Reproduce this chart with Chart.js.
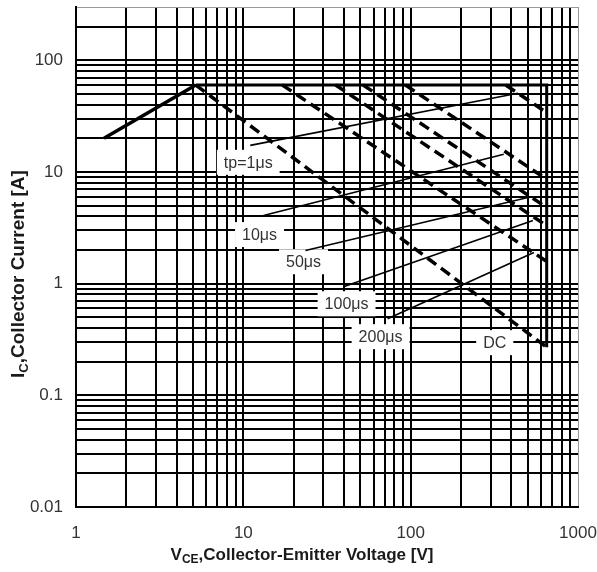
<!DOCTYPE html>
<html>
<head>
<meta charset="utf-8">
<script src="https://cdn.jsdelivr.net/npm/chart.js@4.4.0/dist/chart.umd.min.js"></script>
<style>
  html, body { margin: 0; padding: 0; background: #fff; }
  #wrap { width: 597px; height: 572px; }
</style>
</head>
<body>
<div id="wrap"><canvas id="soaChart" width="597" height="572"></canvas></div>
<script>
// axis ranges and tick labels
const vceMin = 1, vceMax = 1000;
const icMin = 0.01, icMax = 300;
const xTickLabels = ['1', '10', '100', '1000'];
const yTickLabels = ['0.01', '0.1', '1', '10', '100'];

// limits
const icLimit = 60;     // A, pulsed current limit
const vceLimit = 650;   // V, voltage limit

// DC curve
const dcVce = [1.47, 5.2, 650];
const dcIc = [20, 60, 0.27];

// pulse curves: start on the 60 A line, end on the 650 V line
const pulseNames = ['tp=1μs', '10μs', '50μs', '100μs', '200μs'];
const pulseVceStart = [370, 93, 52, 35.6, 17.1];
const pulseIcEnd = [34, 8.6, 4.8, 3.3, 1.58];

// curve labels and their leader lines
const curveLabels = ['tp=1μs', '10μs', '50μs', '100μs', '200μs', 'DC'];
const labelVce = [10.7, 12.5, 22.9, 41.4, 66.1, 318];
const labelIc = [12.2, 2.75, 1.57, 0.66, 0.335, 0.296];
const leaderFromVce = [11.0, 13.2, 23.5, 39.7, 72.8];
const leaderFromIc = [17.3, 4.07, 1.98, 0.94, 0.485];
const leaderToVce = [437, 360, 502, 538, 545];
const leaderToIc = [50.6, 14.4, 5.9, 3.67, 1.90];

const xTitle = [['V', false], ['CE', true], [',Collector-Emitter Voltage [V]', false]];
const yTitle = [['I', false], ['C', true], [',Collector Current [A]', false]];

const FONT = '"Liberation Sans", Arial, sans-serif';

function decadeTicks(min, max) {
  const out = [];
  for (let e = Math.floor(Math.log10(min)); e <= Math.ceil(Math.log10(max)); e++) {
    for (let m = 1; m <= 9; m++) {
      const v = +(m * Math.pow(10, e)).toPrecision(6);
      if (v >= min * 0.999 && v <= max * 1.001) out.push({ value: v });
    }
  }
  return out;
}

function pts(xs, ys) {
  return xs.map((v, i) => ({ x: v, y: ys[i] }));
}

const datasets = [];

datasets.push({
  data: pts(dcVce.slice(0, 2), dcIc.slice(0, 2)),
  borderColor: '#000', borderWidth: 3.5
});
datasets.push({
  data: pts(dcVce.slice(1), dcIc.slice(1)),
  borderColor: '#000', borderWidth: 3.5, borderDash: [11, 6]
});
pulseNames.forEach((n, i) => {
  datasets.push({
    data: [{ x: pulseVceStart[i], y: icLimit }, { x: vceLimit, y: pulseIcEnd[i] }],
    borderColor: '#000', borderWidth: 3.5, borderDash: [11, 6]
  });
});
// current / voltage limit outline
datasets.push({
  data: [{ x: dcVce[1], y: icLimit }, { x: vceLimit, y: icLimit }, { x: vceLimit, y: dcIc[2] }],
  borderColor: '#000', borderWidth: 3
});
// leader lines
leaderFromVce.forEach((v, i) => {
  datasets.push({
    data: [{ x: v, y: leaderFromIc[i] }, { x: leaderToVce[i], y: leaderToIc[i] }],
    borderColor: '#000', borderWidth: 1.6
  });
});

function drawSubText(ctx, parts, cx, cy, size) {
  const big = 'bold ' + size + 'px ' + FONT;
  const small = 'bold ' + Math.round(size * 0.7) + 'px ' + FONT;
  let total = 0;
  const widths = parts.map(([t, sub]) => {
    ctx.font = sub ? small : big;
    const w = ctx.measureText(t).width;
    total += w;
    return w;
  });
  let x0 = cx - total / 2;
  parts.forEach(([t, sub], i) => {
    ctx.font = sub ? small : big;
    ctx.fillText(t, x0, cy + (sub ? size * 0.3 : 0));
    x0 += widths[i];
  });
}

const soaLabels = {
  id: 'soaLabels',
  beforeDatasetsDraw(chart) {
    const { ctx, scales: { x, y } } = chart;
    ctx.save();
    ctx.font = '16px ' + FONT;
    ctx.textAlign = 'center';
    ctx.textBaseline = 'middle';
    curveLabels.forEach((t, i) => {
      const px = x.getPixelForValue(labelVce[i]);
      const py = y.getPixelForValue(labelIc[i]);
      const w = ctx.measureText(t).width + 14, h = 25;
      ctx.fillStyle = '#fff';
      ctx.fillRect(px - w / 2, py - h / 2, w, h);
      ctx.fillStyle = '#333';
      ctx.fillText(t, px, py + 1);
    });
    ctx.restore();
  },
  afterDraw(chart) {
    const ctx = chart.ctx;
    ctx.save();
    ctx.fillStyle = '#1a1a1a';
    ctx.textAlign = 'left';
    ctx.textBaseline = 'middle';
    drawSubText(ctx, xTitle, 302, 555, 17);
    ctx.translate(19, 274);
    ctx.rotate(-Math.PI / 2);
    drawSubText(ctx, yTitle, 0, 0, 19);
    ctx.restore();
  }
};

const gridColor = (edge) => (c) => (c.tick && c.tick.value === edge ? '#999' : '#000');
const gridWidth = (edge) => (c) => (c.tick && c.tick.value === edge ? 1 : 2);

new Chart(document.getElementById('soaChart'), {
  type: 'scatter',
  data: { datasets: datasets },
  options: {
    responsive: false,
    animation: false,
    showLine: true,
    elements: { point: { radius: 0 }, line: { tension: 0 } },
    layout: { padding: { left: 0, top: 7, right: 19, bottom: 0 } },
    plugins: { legend: { display: false }, tooltip: { enabled: false } },
    scales: {
      x: {
        type: 'logarithmic',
        min: vceMin, max: vceMax,
        afterBuildTicks: (s) => { s.ticks = decadeTicks(vceMin, vceMax); },
        afterFit: (s) => { s.height = 65; s.paddingLeft = 0; s.paddingRight = 0; },
        grid: { color: gridColor(vceMax), lineWidth: gridWidth(vceMax), drawTicks: false },
        border: { display: true, color: '#000', width: 2 },
        ticks: {
          autoSkip: false, maxRotation: 0, padding: 16, color: '#333',
          font: { family: FONT, size: 17 },
          callback: (v) => (xTickLabels.includes(String(v)) ? String(v) : '')
        }
      },
      y: {
        type: 'logarithmic',
        min: icMin, max: icMax,
        afterBuildTicks: (s) => { s.ticks = decadeTicks(icMin, icMax); },
        afterFit: (s) => { s.width = 76; s.paddingTop = 0; s.paddingBottom = 0; },
        grid: { color: gridColor(icMax), lineWidth: gridWidth(icMax), drawTicks: false },
        border: { display: true, color: '#000', width: 2 },
        ticks: {
          autoSkip: false, padding: 13, color: '#333',
          font: { family: FONT, size: 17 },
          callback: (v) => (yTickLabels.includes(String(v)) ? String(v) : '')
        }
      }
    }
  },
  plugins: [soaLabels]
});
</script>
</body>
</html>
